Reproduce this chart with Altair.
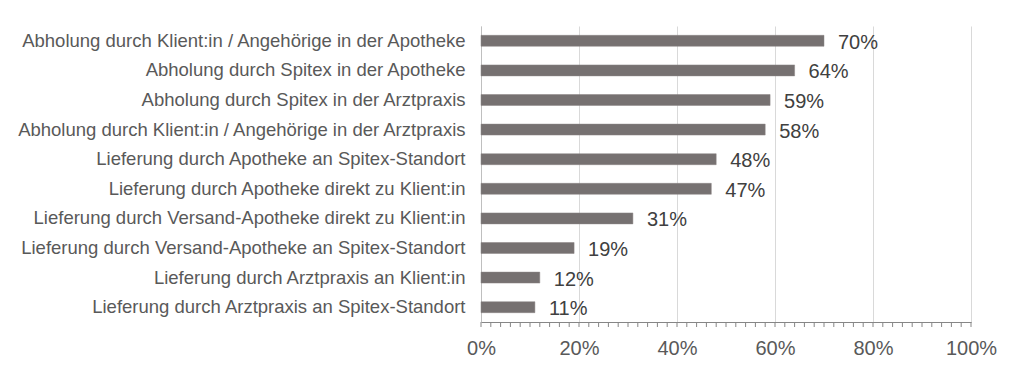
import altair as alt
import pandas as pd

categories = [
    "Abholung durch Klient:in / Angehörige in der Apotheke",
    "Abholung durch Spitex in der Apotheke",
    "Abholung durch Spitex in der Arztpraxis",
    "Abholung durch Klient:in / Angehörige in der Arztpraxis",
    "Lieferung durch Apotheke an Spitex-Standort",
    "Lieferung durch Apotheke direkt zu Klient:in",
    "Lieferung durch Versand-Apotheke direkt zu Klient:in",
    "Lieferung durch Versand-Apotheke an Spitex-Standort",
    "Lieferung durch Arztpraxis an Klient:in ",
    "Lieferung durch Arztpraxis an Spitex-Standort",
]
values = [70, 64, 59, 58, 48, 47, 31, 19, 12, 11]
major_ticks = [0, 20, 40, 60, 80, 100]
minor_ticks = list(range(0, 101, 2))

df = pd.DataFrame({"label": categories, "value": values})
ticks_df = pd.DataFrame({"value": minor_ticks})

FONT = "Liberation Sans"
W, H = 490, 296

x_enc = alt.X(
    "value:Q",
    scale=alt.Scale(domain=[0, 100], nice=False, zero=True),
    axis=alt.Axis(
        values=major_ticks,
        labelExpr="datum.value + '%'",
        labelFlush=False,
        labelOverlap=False,
        grid=True,
        gridColor="#d9d9d9",
        gridWidth=1,
        ticks=False,
        domainColor="#868686",
        domainWidth=1,
        labelFontSize=20,
        labelColor="#595959",
        labelFont=FONT,
        labelPadding=16,
        title=None,
    ),
)
y_enc = alt.Y(
    "label:N",
    sort=categories,
    scale=alt.Scale(paddingInner=0.63, paddingOuter=0.315),
    axis=alt.Axis(
        title=None,
        ticks=False,
        labelFontSize=18.5,
        labelColor="#595959",
        labelFont=FONT,
        labelPadding=16,
        labelLimit=600,
        domainColor="#bfbfbf",
        grid=False,
    ),
)

bars = alt.Chart(df).mark_bar(color="#767171", stroke="#8a8585", strokeWidth=0.5).encode(x=x_enc, y=y_enc)

texts = (
    alt.Chart(df)
    .transform_calculate(txt="datum.value + '%'")
    .mark_text(align="left", baseline="middle", dx=14, dy=2, fontSize=20, font=FONT, color="#404040")
    .encode(x=alt.X("value:Q"), y=alt.Y("label:N", sort=categories), text="txt:N")
)

minor = (
    alt.Chart(ticks_df)
    .mark_rule(color="#868686", strokeWidth=1)
    .encode(x=alt.X("value:Q"), y=alt.value(H), y2=alt.value(H + 5))
)

chart = (
    alt.layer(bars, texts, minor)
    .properties(
        width=W,
        height=H,
        autosize=alt.AutoSizeParams(type="none"),
        padding={"left": 473, "top": 18, "right": 37, "bottom": 40},
        background="white",
    )
    .configure_view(stroke=None)
)

chart.save("out.html", embed_options={"renderer": "svg", "actions": False})
